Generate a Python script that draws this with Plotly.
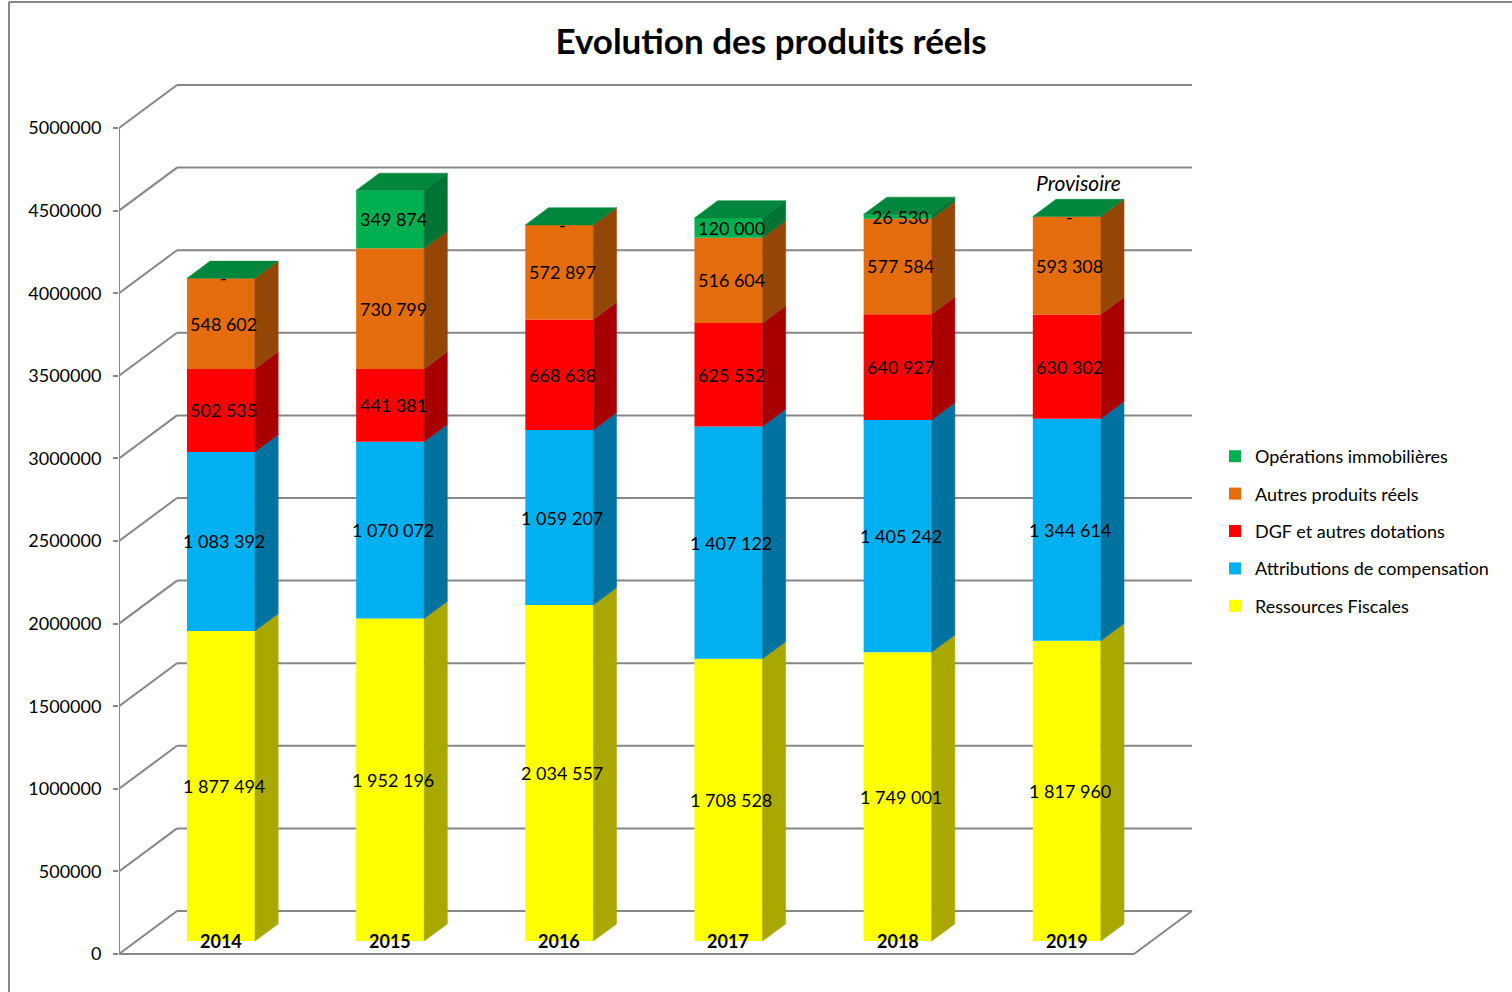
import plotly.graph_objects as go

# ---- data -----------------------------------------------------------------
years = ["2014", "2015", "2016", "2017", "2018", "2019"]
ressources_fiscales = [1877494, 1952196, 2034557, 1708528, 1749001, 1817960]
attributions_compensation = [1083392, 1070072, 1059207, 1407122, 1405242, 1344614]
dgf_dotations = [502535, 441381, 668638, 625552, 640927, 630302]
autres_produits = [548602, 730799, 572897, 516604, 577584, 593308]
operations_immobilieres = [0, 349874, 0, 120000, 26530, 0]
y_ticks = [0, 500000, 1000000, 1500000, 2000000, 2500000, 3000000,
           3500000, 4000000, 4500000, 5000000]

# name, values, front colour, side colour (bottom to top of the stack)
series = [
    ("Ressources Fiscales", ressources_fiscales, "#FFFF00", "#A8A800"),
    ("Attributions de compensation", attributions_compensation, "#00B0F0", "#0072A0"),
    ("DGF et autres dotations", dgf_dotations, "#FF0000", "#A80000"),
    ("Autres produits réels", autres_produits, "#E46C0A", "#944607"),
    ("Opérations immobilières", operations_immobilieres, "#00B050", "#007434"),
]
TOP_COLOR = "#00873D"
GRID = "#878787"
FONT = "Lato"

# ---- geometry of the pseudo-3D box ---------------------------------------
W, H = 1512, 992
n = len(years)
px_per_x = 1015 / n                   # pixels per category on the front plane
y_per_px = 5000000 / 826              # value units per pixel
y0_px = 954                           # pixel row of value 0 on the front plane
DX = 58 / px_per_x                    # full depth, x units
DY = 43 * y_per_px                    # full depth, y units

x_lo, x_hi = -0.5, n - 0.5
L, T, B = 119, 40, 12
plot_w = round((x_hi + DX + 0.05 - x_lo) * px_per_x)
R = W - L - plot_w
plot_h = H - T - B
y_min = -(H - B - y0_px) * y_per_px
y_max = (y0_px - T) * y_per_px

F_FRONT, F_DEPTH = 0.3, 0.4           # bar front plane and bar depth (fractions)
BAR_W = 68 / px_per_x
fx, fy = F_FRONT * DX, F_FRONT * DY
bx, by = F_DEPTH * DX, F_DEPTH * DY


def fmt(v):
    return "-" if v == 0 else f"{v:,}".replace(",", " ")


fig = go.Figure()

# front faces
bases = [0] * n
seg_info = []
for k, (name, vals, front, side) in enumerate(series):
    fig.add_trace(go.Bar(
        x=[i + fx for i in range(n)], y=vals,
        base=[b + fy for b in bases], width=BAR_W,
        marker=dict(color=front, line=dict(width=0)),
        name=name, legendgroup=name, legendrank=100 - k, hoverinfo="skip",
    ))
    seg_info.append((vals, list(bases), side))
    bases = [b + v for b, v in zip(bases, vals)]
totals = bases

# side faces
for vals, lows, side in seg_info:
    for i in range(n):
        if vals[i] == 0:
            continue
        xr = i + fx + BAR_W / 2
        y0 = lows[i] + fy
        y1 = lows[i] + vals[i] + fy
        fig.add_trace(go.Scatter(
            x=[xr, xr + bx, xr + bx, xr, xr],
            y=[y0, y0 + by, y1 + by, y1, y0],
            fill="toself", fillcolor=side, mode="lines",
            line=dict(color=side, width=0.5),
            showlegend=False, hoverinfo="skip",
        ))

# top faces
for i in range(n):
    xl = i + fx - BAR_W / 2
    xr = i + fx + BAR_W / 2
    yt = totals[i] + fy
    fig.add_trace(go.Scatter(
        x=[xl, xl + bx, xr + bx, xr, xl],
        y=[yt, yt + by, yt + by, yt, yt],
        fill="toself", fillcolor=TOP_COLOR, mode="lines",
        line=dict(color=TOP_COLOR, width=0.5),
        showlegend=False, hoverinfo="skip",
    ))

# ---- walls, floor and axis -------------------------------------------------
shapes = []
line = dict(color=GRID, width=2)
for v in y_ticks:
    shapes.append(dict(type="line", xref="x", yref="y", layer="below",
                       x0=x_lo + DX, y0=v + DY, x1=x_hi + DX, y1=v + DY, line=line))
    shapes.append(dict(type="line", xref="x", yref="y", layer="below",
                       x0=x_lo, y0=v, x1=x_lo + DX, y1=v + DY, line=line))
shapes.append(dict(type="line", xref="x", yref="y", layer="below",
                   x0=x_lo, y0=0, x1=x_hi, y1=0, line=line))
shapes.append(dict(type="line", xref="x", yref="y", layer="below",
                   x0=x_hi, y0=0, x1=x_hi + DX, y1=DY, line=line))
shapes.append(dict(type="line", xref="x", yref="y", layer="below",
                   x0=x_lo, y0=0, x1=x_lo, y1=y_ticks[-1], line=line))


# chart frame
def paper_x(p):
    return (p - L) / plot_w


def paper_y(p):
    return (H - B - p) / plot_h


frame = dict(color="#868686", width=2)
shapes.append(dict(type="line", xref="paper", yref="paper",
                   x0=paper_x(9), y0=paper_y(2), x1=paper_x(9), y1=paper_y(1000), line=frame))
shapes.append(dict(type="line", xref="paper", yref="paper",
                   x0=paper_x(9), y0=paper_y(2), x1=paper_x(1520), y1=paper_y(2), line=frame))

# ---- labels ----------------------------------------------------------------
annotations = []
for vals, lows, side in seg_info:
    for i in range(n):
        annotations.append(dict(
            x=i + fx, y=lows[i] + vals[i] / 2 + fy, xref="x", yref="y",
            text=fmt(vals[i]), showarrow=False, xshift=3,
            font=dict(family=FONT, size=18, color="black"),
        ))
for i, yr in enumerate(years):
    annotations.append(dict(
        x=i + fx, y=fy, xref="x", yref="y", text=f"<b>{yr}</b>",
        showarrow=False, yanchor="middle",
        font=dict(family=FONT, size=18, color="black"),
    ))
annotations.append(dict(
    x=n - 1 + fx + bx / 2, y=totals[-1] + fy + by, xref="x", yref="y",
    text="<i>Provisoire</i>", showarrow=False, yanchor="bottom", yshift=2,
    font=dict(family=FONT, size=21, color="black"),
))

fig.update_layout(
    width=W, height=H,
    margin=dict(l=L, r=R, t=T, b=B),
    paper_bgcolor="white", plot_bgcolor="white",
    barmode="overlay",
    title=dict(text="<b>Evolution des produits réels</b>",
               x=771 / W, y=1 - 42 / H, xanchor="center", yanchor="middle",
               xref="container", yref="container",
               font=dict(family=FONT, size=35, color="black")),
    xaxis=dict(range=[x_lo, x_lo + plot_w / px_per_x], visible=False, fixedrange=True),
    yaxis=dict(range=[y_min, y_max], tickvals=y_ticks, tickformat="d",
               showgrid=False, zeroline=False, showline=False,
               ticks="outside", ticklen=5, tickcolor=GRID, tickwidth=2,
               ticklabelstandoff=8,
               tickfont=dict(family=FONT, size=18, color="black")),
    legend=dict(x=paper_x(1215), y=paper_y(438), xanchor="left", yanchor="top",
                traceorder="grouped", tracegroupgap=11,
                itemwidth=30,
                font=dict(family=FONT, size=18, color="black"),
                bgcolor="rgba(0,0,0,0)"),
    shapes=shapes, annotations=annotations,
    showlegend=True,
)

fig.write_html("out.html")
